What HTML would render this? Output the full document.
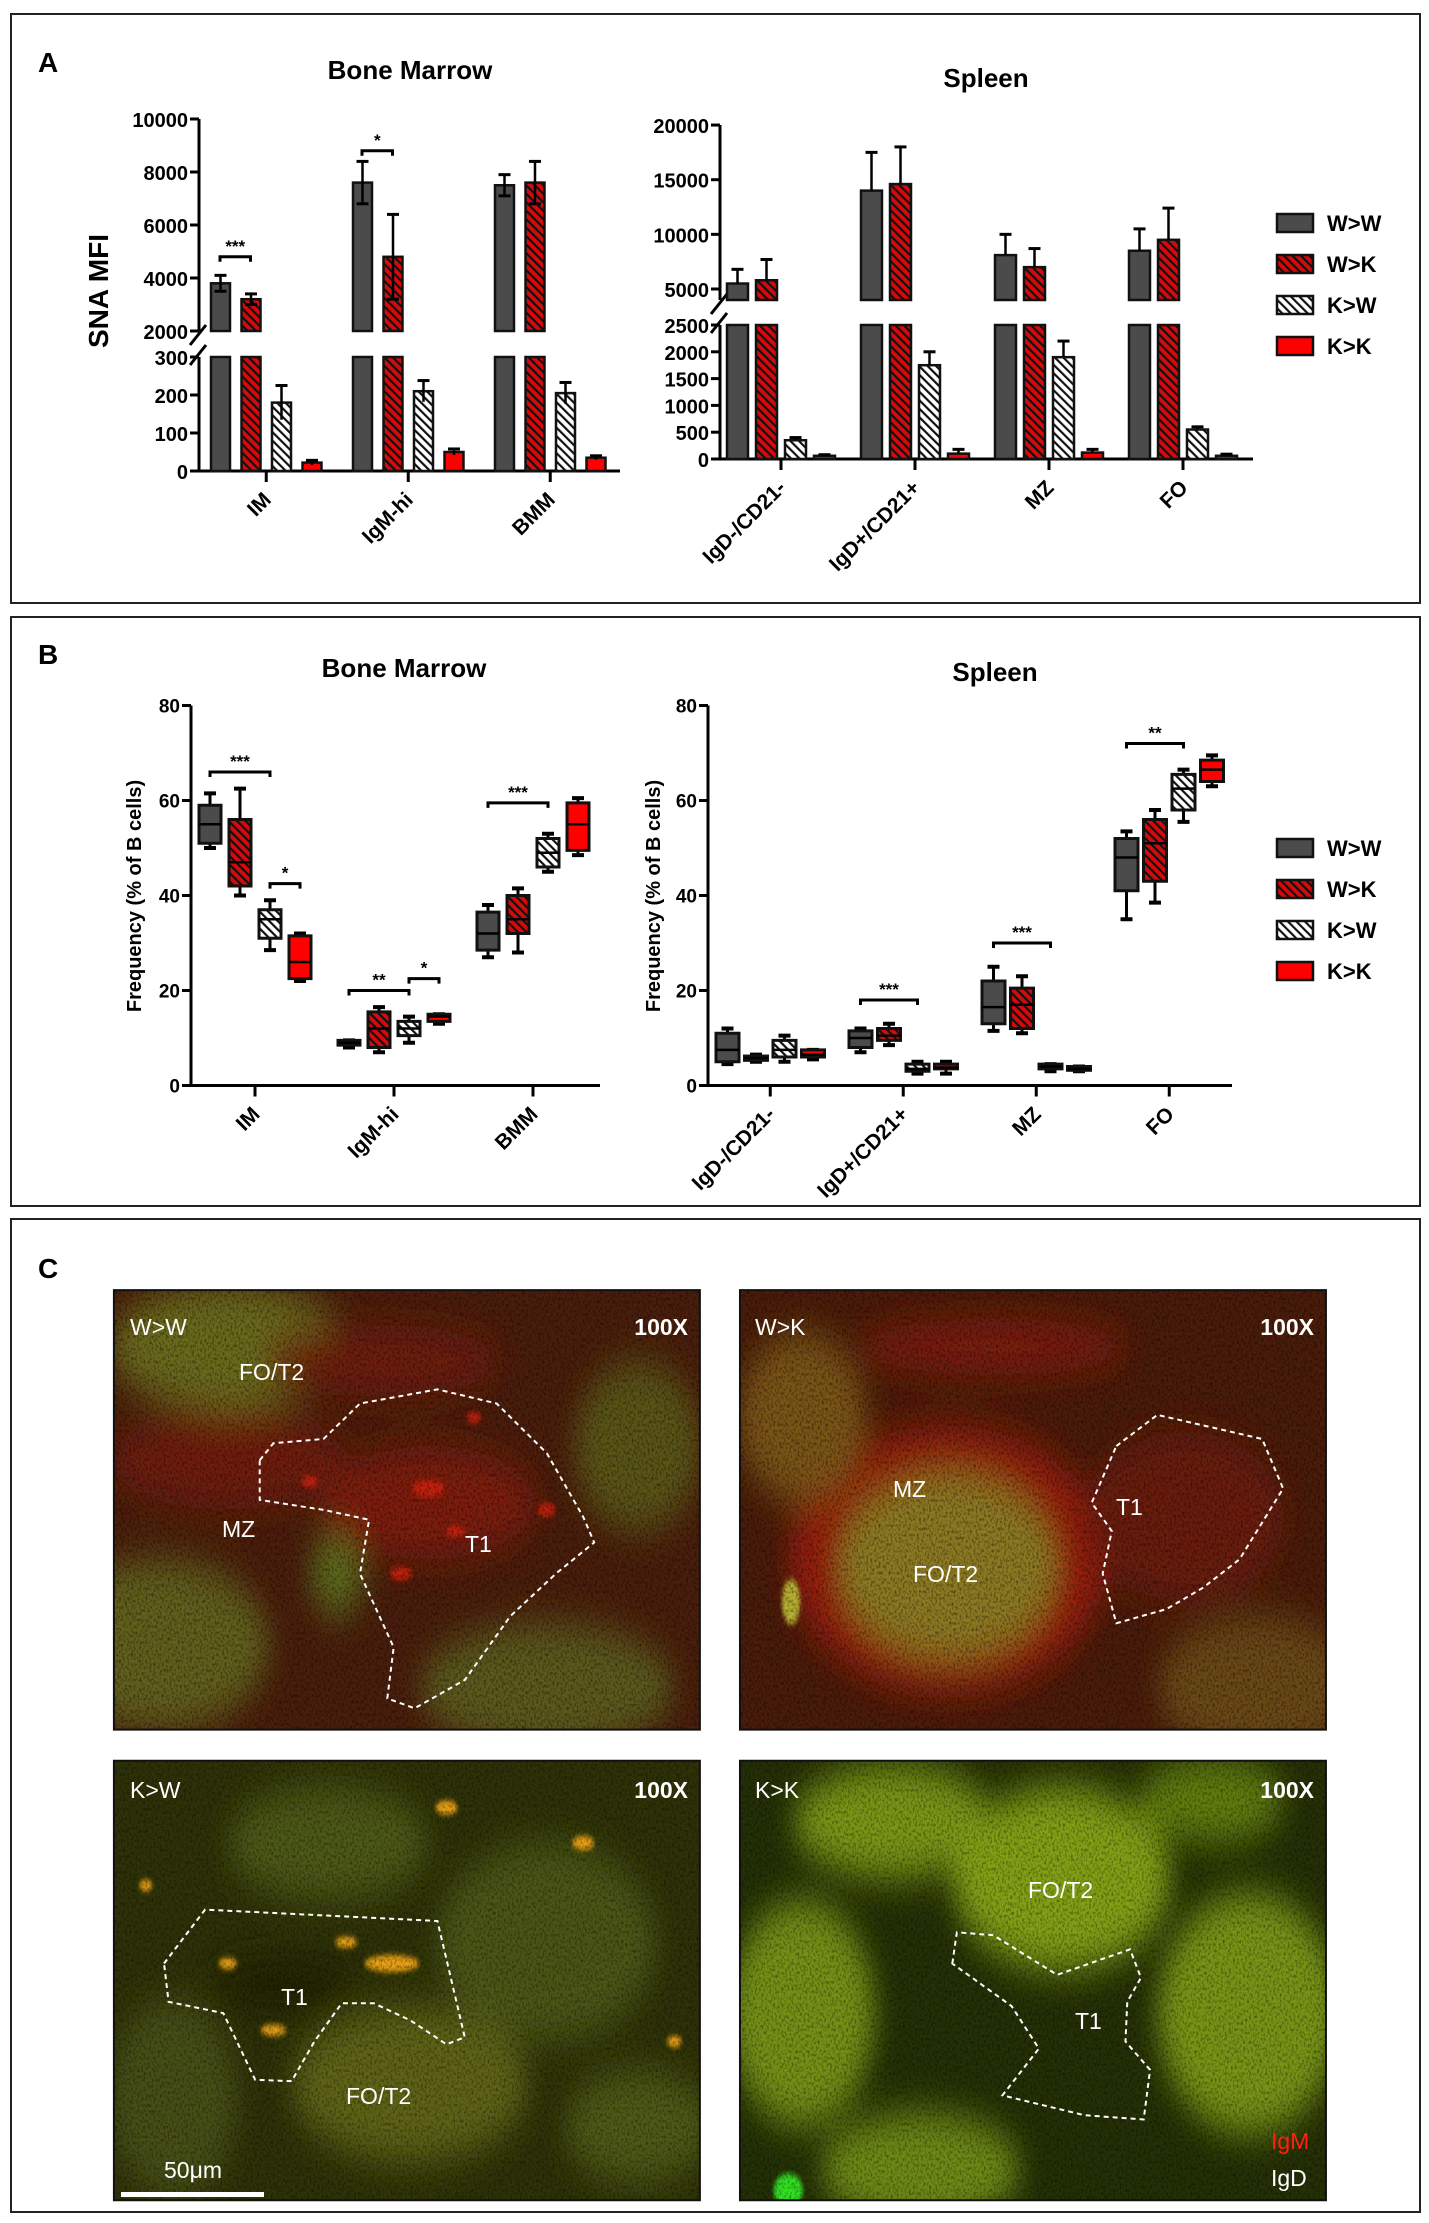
<!DOCTYPE html>
<html><head><meta charset="utf-8">
<style>
html,body{margin:0;padding:0;background:#fff;}
svg{display:block;font-family:"Liberation Sans",sans-serif;}
.b{font-weight:bold;}
</style></head>
<body>
<svg id="fig" width="1429" height="2223" viewBox="0 0 1429 2223" xmlns="http://www.w3.org/2000/svg">
<defs>
<pattern id="hatchR" patternUnits="userSpaceOnUse" width="6" height="6" patternTransform="rotate(-45)">
<rect width="6" height="6" fill="#d60a0a"/><rect x="0" y="0" width="2.2" height="6" fill="#111"/></pattern>
<pattern id="hatchW" patternUnits="userSpaceOnUse" width="6" height="6" patternTransform="rotate(-45)">
<rect width="6" height="6" fill="#fff"/><rect x="0" y="0" width="2.2" height="6" fill="#111"/></pattern>
<filter id="blur" x="-50%" y="-50%" width="200%" height="200%"><feGaussianBlur stdDeviation="14"/></filter>
<filter id="blur2" x="-50%" y="-50%" width="200%" height="200%"><feGaussianBlur stdDeviation="2"/></filter>
<filter id="speck" x="0" y="0" width="100%" height="100%">
 <feTurbulence type="fractalNoise" baseFrequency="0.45" numOctaves="2" seed="3"/>
 <feColorMatrix type="matrix" values="0 0 0 0 0  0 0 0 0 0  0 0 0 0 0  0 0 0 -2.2 1.25"/>
</filter>
<clipPath id="c1"><rect x="125" y="910" width="643" height="310"/></clipPath>
<clipPath id="c2"><rect x="812" y="910" width="643" height="310"/></clipPath>
<clipPath id="c3"><rect x="125" y="1242" width="643" height="310"/></clipPath>
<clipPath id="c4"><rect x="812" y="1242" width="643" height="310"/></clipPath>
</defs>

<rect x="11" y="14" width="1409" height="589" fill="none" stroke="#222" stroke-width="2"/>
<rect x="11" y="617" width="1409" height="589" fill="none" stroke="#222" stroke-width="2"/>
<rect x="11" y="1219" width="1409" height="993" fill="none" stroke="#222" stroke-width="2"/>
<text x="38" y="72" class="b" font-size="28">A</text>
<text x="38" y="664" class="b" font-size="28">B</text>
<text x="38" y="1278" class="b" font-size="28">C</text>

<g id="charts"></g>

<g transform="matrix(0.9113,0,0,1.4177,0,0)">
 <g clip-path="url(#c1)">
  <rect x="125" y="910" width="643" height="310" fill="#4a1e0c"/>
  <g filter="url(#blur)">
   <ellipse cx="250" cy="950" rx="130" ry="45" fill="#6b6a1c"/>
   <ellipse cx="175" cy="1160" rx="120" ry="60" fill="#62601a"/>
   <ellipse cx="600" cy="1190" rx="140" ry="45" fill="#5c5a1a"/>
   <ellipse cx="700" cy="1020" rx="70" ry="60" fill="#5a5418"/>
   <ellipse cx="370" cy="1110" rx="30" ry="30" fill="#5d6a1a"/>
   <ellipse cx="470" cy="1060" rx="120" ry="40" fill="#7e1c0c"/>
   <ellipse cx="250" cy="1030" rx="130" ry="35" fill="#701c0c"/>
   <ellipse cx="420" cy="960" rx="130" ry="25" fill="#701c0c"/>
  </g>
  <g filter="url(#blur2)" fill="#d8240c" opacity="0.8">
   <ellipse cx="470" cy="1050" rx="18" ry="6"/><ellipse cx="600" cy="1065" rx="10" ry="5"/>
   <ellipse cx="440" cy="1110" rx="12" ry="5"/><ellipse cx="520" cy="1000" rx="8" ry="4"/>
   <ellipse cx="340" cy="1045" rx="9" ry="4"/><ellipse cx="500" cy="1080" rx="10" ry="4"/>
  </g>
  <rect x="125" y="910" width="643" height="310" filter="url(#speck)" opacity="0.5"/>
 </g>
 <g clip-path="url(#c2)">
  <rect x="812" y="910" width="643" height="310" fill="#4a1c0a"/>
  <g filter="url(#blur)">
   <ellipse cx="1040" cy="1100" rx="175" ry="95" fill="#961e0c"/>
   <ellipse cx="1040" cy="1105" rx="120" ry="65" fill="#8c7a24"/>
   <ellipse cx="880" cy="1000" rx="70" ry="60" fill="#7a5418"/>
   <ellipse cx="1380" cy="1190" rx="110" ry="50" fill="#6a4a14"/>
   <ellipse cx="1300" cy="1070" rx="110" ry="60" fill="#6a1a0a"/>
   <ellipse cx="1090" cy="950" rx="150" ry="20" fill="#801e0c"/>
  </g>
  <ellipse cx="868" cy="1130" rx="10" ry="16" fill="#b8b030" filter="url(#blur2)"/>
  <rect x="812" y="910" width="643" height="310" filter="url(#speck)" opacity="0.5"/>
 </g>
 <g clip-path="url(#c3)">
  <rect x="125" y="1242" width="643" height="310" fill="#2e3208"/>
  <g filter="url(#blur)">
   <ellipse cx="360" cy="1300" rx="110" ry="40" fill="#4e5a14"/>
   <ellipse cx="450" cy="1470" rx="130" ry="55" fill="#5e6418"/>
   <ellipse cx="600" cy="1370" rx="120" ry="70" fill="#4c5614"/>
   <ellipse cx="190" cy="1480" rx="70" ry="70" fill="#465012"/>
   <ellipse cx="700" cy="1500" rx="80" ry="40" fill="#505a16"/>
   <ellipse cx="310" cy="1400" rx="80" ry="18" fill="#202206"/>
  </g>
  <g filter="url(#blur2)" fill="#e8a018">
   <ellipse cx="430" cy="1385" rx="30" ry="6"/><ellipse cx="250" cy="1385" rx="10" ry="4"/>
   <ellipse cx="490" cy="1275" rx="12" ry="5"/><ellipse cx="640" cy="1300" rx="12" ry="5"/>
   <ellipse cx="300" cy="1432" rx="14" ry="4"/><ellipse cx="160" cy="1330" rx="7" ry="4"/>
   <ellipse cx="380" cy="1370" rx="12" ry="4"/><ellipse cx="740" cy="1440" rx="8" ry="4"/>
  </g>
  <rect x="125" y="1242" width="643" height="310" filter="url(#speck)" opacity="0.45"/>
 </g>
 <g clip-path="url(#c4)">
  <rect x="812" y="1242" width="643" height="310" fill="#243006"/>
  <g filter="url(#blur)">
   <ellipse cx="980" cy="1285" rx="110" ry="40" fill="#7a9614"/>
   <ellipse cx="1165" cy="1325" rx="120" ry="65" fill="#82a016"/>
   <ellipse cx="880" cy="1420" rx="80" ry="80" fill="#749014"/>
   <ellipse cx="1370" cy="1420" rx="100" ry="85" fill="#789414"/>
   <ellipse cx="1010" cy="1530" rx="110" ry="40" fill="#6e8a12"/>
   <ellipse cx="1330" cy="1270" rx="80" ry="30" fill="#627e10"/>
  </g>
  <ellipse cx="865" cy="1545" rx="16" ry="12" fill="#30e020" filter="url(#blur2)"/>
  <rect x="812" y="1242" width="643" height="310" filter="url(#speck)" opacity="0.45"/>
 </g>
 <g fill="none" stroke="#fff" stroke-width="2" stroke-dasharray="5,4">
  <polygon vector-effect="non-scaling-stroke" points="285,1030 300,1018 355,1015 395,990 480,980 545,990 600,1025 640,1070 652,1088 610,1110 560,1140 510,1185 455,1205 425,1198 432,1162 395,1110 405,1072 355,1065 285,1058"/>
  <polygon vector-effect="non-scaling-stroke" points="1225,1020 1270,998 1385,1015 1408,1050 1360,1100 1320,1120 1280,1135 1225,1145 1210,1110 1220,1080 1198,1060"/>
  <polygon vector-effect="non-scaling-stroke" points="180,1385 225,1347 480,1355 510,1437 490,1442 450,1425 410,1413 375,1413 345,1440 320,1468 280,1467 245,1420 185,1412"/>
  <polygon vector-effect="non-scaling-stroke" points="1045,1385 1050,1363 1090,1365 1160,1393 1240,1375 1252,1395 1237,1412 1235,1440 1262,1460 1255,1495 1190,1492 1100,1478 1140,1445 1110,1415"/>
 </g>
 <rect x="125" y="910" width="643" height="310" fill="none" stroke="#111" stroke-width="2" vector-effect="non-scaling-stroke"/>
 <rect x="812" y="910" width="643" height="310" fill="none" stroke="#111" stroke-width="2" vector-effect="non-scaling-stroke"/>
 <rect x="125" y="1242" width="643" height="310" fill="none" stroke="#111" stroke-width="2" vector-effect="non-scaling-stroke"/>
 <rect x="812" y="1242" width="643" height="310" fill="none" stroke="#111" stroke-width="2" vector-effect="non-scaling-stroke"/>
</g>
<g fill="#fff" font-size="23">
 <text x="130" y="1335">W&gt;W</text>
 <text x="688" y="1335" text-anchor="end" class="b">100X</text>
 <text x="239" y="1380">FO/T2</text>
 <text x="222" y="1537">MZ</text>
 <text x="465" y="1552">T1</text>
 <text x="755" y="1335">W&gt;K</text>
 <text x="1314" y="1335" text-anchor="end" class="b">100X</text>
 <text x="893" y="1497">MZ</text>
 <text x="913" y="1582">FO/T2</text>
 <text x="1116" y="1515">T1</text>
 <text x="130" y="1798">K&gt;W</text>
 <text x="688" y="1798" text-anchor="end" class="b">100X</text>
 <text x="281" y="2005">T1</text>
 <text x="346" y="2104">FO/T2</text>
 <text x="164" y="2178">50μm</text>
 <rect x="121" y="2192" width="143" height="5"/>
 <text x="755" y="1798">K&gt;K</text>
 <text x="1314" y="1798" text-anchor="end" class="b">100X</text>
 <text x="1028" y="1898">FO/T2</text>
 <text x="1075" y="2029">T1</text>
 <text x="1271" y="2149" fill="#ff2010">IgM</text>
 <text x="1271" y="2186">IgD</text>
</g>
</svg>

<script>
// ---------- data ----------
const series = ['W>W','W>K','K>W','K>K'];
const bmCats = ['IM','IgM-hi','BMM'];
const spCats = ['IgD-/CD21-','IgD+/CD21+','MZ','FO'];
const aBmMean = [[3800,3200,180,22],[7600,4800,210,50],[7500,7600,205,35]];
const aBmErr  = [[300,200,45,6],[800,1600,28,8],[400,800,28,5]];
const aSpMean = [[5500,5800,350,60],[14000,14600,1750,100],[8100,7000,1900,120],[8500,9500,550,60]];
const aSpErr  = [[1300,1900,50,20],[3500,3400,250,80],[1900,1700,300,60],[2000,2900,50,30]];
const aBmTicksUpper = [2000,4000,6000,8000,10000];
const aBmTicksLower = [0,100,200,300];
const aSpTicksUpper = [5000,10000,15000,20000];
const aSpTicksLower = [0,500,1000,1500,2000,2500];
const bBm = [
 [[50,51,55,59,61.5],[40,42,47,56,62.5],[28.5,31,35,37,39],[22,22.5,26,31.5,32]],
 [[8,8.5,9,9.5,9.5],[7,8,12,15.5,16.5],[9,10.5,12,13.5,14.5],[13,13.5,14.5,15,15]],
 [[27,28.5,32,36.5,38],[28,32,35,40,41.5],[45,46,49,52,53],[48.5,49.5,55,59.5,60.5]]];
const bSp = [
 [[4.5,5,7.5,11,12],[5,5.3,5.8,6.2,6.5],[5,6,7.5,9.5,10.5],[5.5,6,6.5,7.5,7.5]],
 [[7,8,10,11.5,12],[8.5,9.5,10.5,12,13],[2.5,3,3.5,4.5,5],[2.5,3.5,3.8,4.5,5]],
 [[11.5,13,16.5,22,25],[11,12,17,20.5,23],[3,3.5,4,4.5,4.5],[3,3.2,3.5,4,4]],
 [[35,41,48,52,53.5],[38.5,43,51,56,58],[55.5,58,62.5,65.5,66.5],[63,64,66.5,68.5,69.5]]];
const bTicks = [0,20,40,60,80];
const aBmSig = [[0,0,1,4800,'***'],[1,0,1,8800,'*']];
const bBmSig = [[0,0,2,66,'***'],[0,2,3,42.5,'*'],[1,0,2,20,'**'],[1,2,3,22.5,'*'],[2,0,2,59.5,'***']];
const bSpSig = [[1,0,2,18,'***'],[2,0,2,30,'***'],[3,0,2,72,'**']];

// ---------- helpers ----------
const NS='http://www.w3.org/2000/svg';
const root=document.getElementById('charts');
function mk(tag,attrs,parent,name){
  const el=document.createElementNS(NS,tag);
  for(const k in attrs) el.setAttribute(k,attrs[k]);
  
  
  (parent||root).appendChild(el);
  return el;
}
const fills=['#4b4b4b','url(#hatchR)','url(#hatchW)','#ff0000'];
function txt(x,y,s,size,anchor,parent,name,extra){
  const t=mk('text',Object.assign({x:x,y:y,'font-size':size,'font-weight':'bold','text-anchor':anchor||'start'},extra||{}),parent,name);
  t.textContent=s; return t;
}
function line(x1,y1,x2,y2,w,parent,name){
  return mk('line',{x1:x1,y1:y1,x2:x2,y2:y2,stroke:'#000','stroke-width':w||3},parent,name);
}
function catLabels(cats,tickX,axisY,g){
  cats.forEach((c,i)=>{
    line(tickX(i),axisY,tickX(i),axisY+11,3,g,'x-tick');
    txt(tickX(i)+6,axisY+30,c,21,'end',g,'x-label',{transform:'rotate(-45 '+(tickX(i)+6)+' '+(axisY+30)+')'});
  });
}
function legend(x,y0,g){
  series.forEach((s,i)=>{
    const y=y0+i*41;
    mk('rect',{x:x,y:y-9,width:36,height:18,fill:fills[i],stroke:'#111','stroke-width':2.5},g,'legend-swatch');
    txt(x+50,y+8,s,22,'start',g,'legend-entry');
  });
}
function sig(x1,x2,y,label,g){
  mk('path',{d:'M'+x1+' '+(y+5)+'V'+y+'H'+x2+'V'+(y+5),fill:'none',stroke:'#000','stroke-width':3},g,'significance-bracket');
  txt((x1+x2)/2,y-5,label,17,'middle',g,'significance-label');
}

function brokenBars(cfg){
  const g=mk('g',{},root,cfg.name);
  const {ax,axisEnd,yU,yL,uBottom,lTop,x0,step,gstep,bw,mean,err,upOnly}=cfg;
  line(ax,cfg.uTopY,ax,uBottom,3,g,'y-axis-upper');
  line(ax,lTop,ax,yL(0),3,g,'y-axis-lower');
  line(ax-1.5,yL(0),axisEnd,yL(0),3,g,'x-axis');
  line(ax-9,uBottom+14,ax+7,uBottom-6,3,g,'axis-break');
  line(ax-9,lTop+8,ax+7,lTop-12,3,g,'axis-break');
  cfg.ticksU.forEach(v=>{line(ax-9,yU(v),ax,yU(v),3,g,'y-tick');txt(ax-11,yU(v)+8,String(v),20,'end',g,'y-tick-label');});
  cfg.ticksL.forEach(v=>{line(ax-9,yL(v),ax,yL(v),3,g,'y-tick');txt(ax-11,yL(v)+8,String(v),20,'end',g,'y-tick-label');});
  mean.forEach((row,c)=>{
    row.forEach((v,s)=>{
      const x=x0+c*gstep+s*step;
      const e=err[c][s];
      if(v>cfg.lMax){
        mk('rect',{x:x,y:yU(v),width:bw,height:uBottom-yU(v),fill:fills[s],stroke:'#111','stroke-width':2.5},g,'bar');
        mk('rect',{x:x,y:lTop,width:bw,height:yL(0)-lTop,fill:fills[s],stroke:'#111','stroke-width':2.5},g,'bar');
        const lo=upOnly?v:v-e;
        line(x+bw/2,yU(v+e),x+bw/2,yU(lo),2.5,g,'error-bar');
        line(x+bw/2-6,yU(v+e),x+bw/2+6,yU(v+e),3,g,'error-cap');
        if(!upOnly) line(x+bw/2-6,yU(lo),x+bw/2+6,yU(lo),3,g,'error-cap');
      } else {
        mk('rect',{x:x,y:yL(v),width:bw,height:yL(0)-yL(v),fill:fills[s],stroke:'#111','stroke-width':2.5},g,'bar');
        const lo=upOnly?v:v-e;
        line(x+bw/2,yL(v+e),x+bw/2,yL(lo),2.5,g,'error-bar');
        line(x+bw/2-6,yL(v+e),x+bw/2+6,yL(v+e),3,g,'error-cap');
      }
    });
  });
  catLabels(cfg.cats,i=>x0+i*gstep+(3*step+bw)/2,yL(0),g);
  return g;
}
const aBmYU=v=>331-(v-2000)*0.0265, aBmYL=v=>471-v*0.38;
const gA1=brokenBars({name:'chart-a-bone-marrow',ax:199,axisEnd:620,yU:aBmYU,yL:aBmYL,uBottom:331,lTop:357,uTopY:119,
  x0:211,step:30.5,gstep:142,bw:19,mean:aBmMean,err:aBmErr,upOnly:false,lMax:300,ticksU:aBmTicksUpper,ticksL:aBmTicksLower,cats:bmCats});
aBmSig.forEach(s=>sig(211+s[0]*142+s[1]*30.5+9,211+s[0]*142+s[2]*30.5+9,aBmYU(s[3]),s[4],gA1));
txt(410,79,'Bone Marrow',26,'middle',gA1,'chart-title');
txt(108,291,'SNA MFI',28,'middle',gA1,'y-axis-title',{transform:'rotate(-90 108 291)'});

const aSpYU=v=>289-(v-5000)*0.01093, aSpYL=v=>459-v*0.0536;
const gA2=brokenBars({name:'chart-a-spleen',ax:720,axisEnd:1253,yU:aSpYU,yL:aSpYL,uBottom:300,lTop:325,uTopY:125,
  x0:727,step:29,gstep:134,bw:21,mean:aSpMean,err:aSpErr,upOnly:true,lMax:2500,ticksU:aSpTicksUpper,ticksL:aSpTicksLower,cats:spCats});
txt(986,87,'Spleen',26,'middle',gA2,'chart-title');
legend(1277,223,gA2);

function boxes(cfg){
  const g=mk('g',{},root,cfg.name);
  const {ax,axisEnd,y,x0,step,gstep,bw,data}=cfg;
  line(ax,y(80),ax,y(0),3,g,'y-axis');
  line(ax-1.5,y(0),axisEnd,y(0),3,g,'x-axis');
  bTicks.forEach(v=>{line(ax-9,y(v),ax,y(v),3,g,'y-tick');txt(ax-11,y(v)+7,String(v),19,'end',g,'y-tick-label');});
  data.forEach((grp,c)=>grp.forEach((st,s)=>{
    const x=x0+c*gstep+s*step, cx=x+bw/2;
    line(cx,y(st[4]),cx,y(st[0]),3,g,'whisker');
    line(cx-6,y(st[4]),cx+6,y(st[4]),4,g,'whisker-cap');
    line(cx-6,y(st[0]),cx+6,y(st[0]),4,g,'whisker-cap');
    mk('rect',{x:x,y:y(st[3]),width:bw,height:Math.max(2,y(st[1])-y(st[3])),fill:fills[s],stroke:'#111','stroke-width':3},g,'box');
    line(x,y(st[2]),x+bw,y(st[2]),2.5,g,'median-line');
  }));
  catLabels(cfg.cats,i=>x0+i*gstep+(3*step+bw)/2,y(0),g);
  cfg.sigs.forEach(s=>sig(x0+s[0]*gstep+s[1]*step+bw/2,x0+s[0]*gstep+s[2]*step+bw/2,y(s[3]),s[4],g));
  return g;
}
const bY=v=>1085.5-v*4.75;
const gB1=boxes({name:'chart-b-bone-marrow',ax:191,axisEnd:600,y:bY,x0:199,step:30,gstep:139,bw:22,data:bBm,cats:bmCats,sigs:bBmSig});
txt(404,677,'Bone Marrow',26,'middle',gB1,'chart-title');
txt(141,896,'Frequency (% of B cells)',20,'middle',gB1,'y-axis-title',{transform:'rotate(-90 141 896)'});
const gB2=boxes({name:'chart-b-spleen',ax:708,axisEnd:1232,y:bY,x0:716,step:28.5,gstep:133,bw:23,data:bSp,cats:spCats,sigs:bSpSig});
txt(995,681,'Spleen',26,'middle',gB2,'chart-title');
txt(660,896,'Frequency (% of B cells)',20,'middle',gB2,'y-axis-title',{transform:'rotate(-90 660 896)'});
legend(1277,848,gB2);
</script>
</body></html>
